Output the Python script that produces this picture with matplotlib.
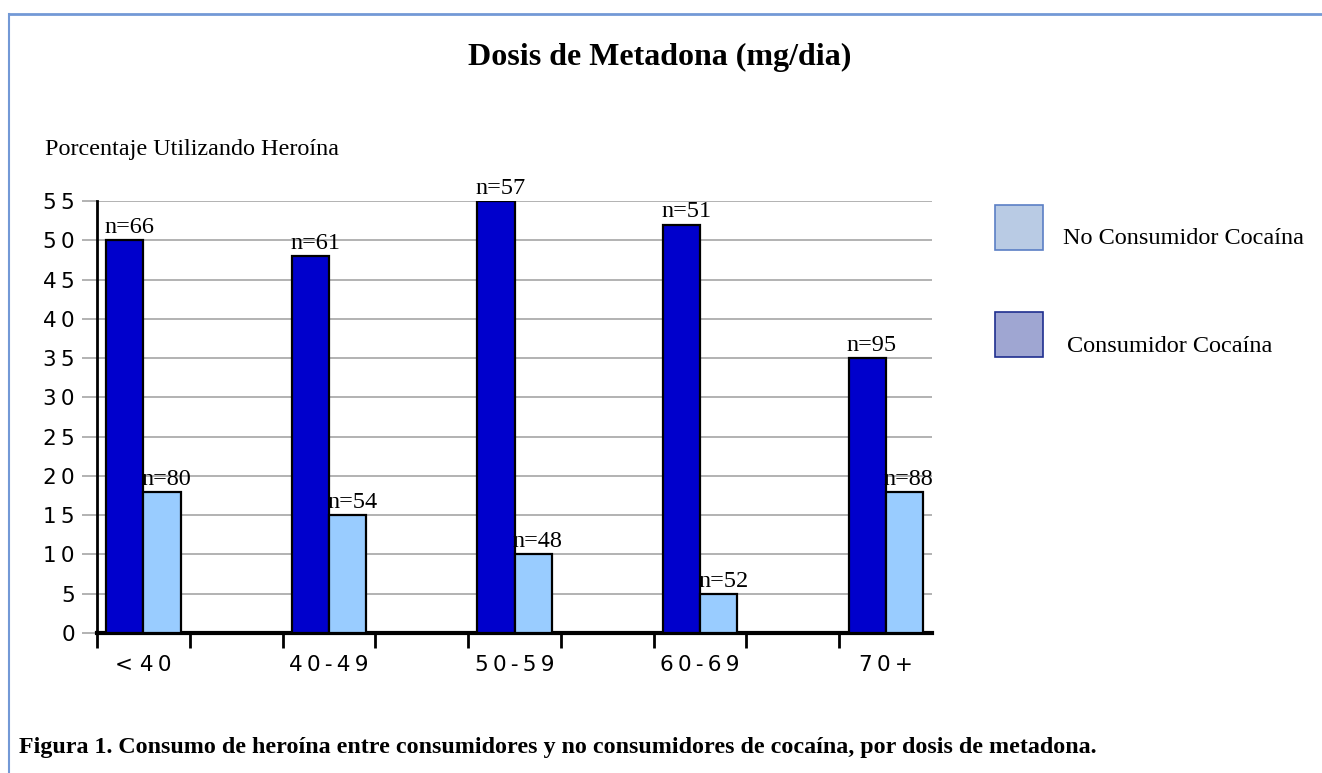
import numpy as np
import matplotlib.pyplot as plt
from matplotlib.patches import Rectangle
from matplotlib.lines import Line2D

# datos
grupos = ['< 40', '40-49', '50-59', '60-69', '70+']
consumidor = [50, 48, 55, 52, 35]
no_consumidor = [18, 15, 10, 5, 18]
n_consumidor = [66, 61, 57, 51, 95]
n_no_consumidor = [80, 54, 48, 52, 88]
yticks = np.arange(0, 56, 5)

W, H = 1322, 773
fig = plt.figure(figsize=(W / 100, H / 100), dpi=100)

serif = ['Liberation Serif', 'DejaVu Serif']
sans = ['DejaVu Sans']
gap = '\u2009'

def spaced(s):
    # espaciado entre caracteres como en el original
    return ' '.join(gap.join(list(w)) for w in s.split(' '))

# marco azul
fig.add_artist(Line2D([9 / W, 1], [1 - 14 / H, 1 - 14 / H], color='#7399d6', lw=2))
fig.add_artist(Line2D([9 / W, 9 / W], [0, 1 - 14 / H], color='#7399d6', lw=1.5))

ax = fig.add_axes([97 / W, 1 - 633 / H, 835 / W, 432 / H])

# cada grupo ocupa dos huecos (uno vacio entre grupos)
x = np.arange(len(grupos)) * 2 + 0.5
bw = 0.4
ax.bar(x - bw / 2, consumidor, width=bw, color='#0000cc', edgecolor='black', lw=1.6, zorder=3)
ax.bar(x + bw / 2, no_consumidor, width=bw, color='#99ccff', edgecolor='black', lw=1.6, zorder=3)

for xi, v, n in zip(x, consumidor, n_consumidor):
    ax.text(xi - bw - 0.02, v + 0.9, f'n={n}', family=serif, fontsize=17.5, ha='left', va='baseline')
for xi, v, n in zip(x, no_consumidor, n_no_consumidor):
    ax.text(xi - 0.02, v + 0.9, f'n={n}', family=serif, fontsize=17.5, ha='left', va='baseline')

ax.set_xlim(0, 9)
ax.set_ylim(0, 55)
ax.set_yticks(yticks)
ax.set_yticklabels([spaced(str(t)) for t in yticks], family=sans, fontsize=15.5)
ax.yaxis.grid(True, color='#a6a6a6', lw=1.2, zorder=0)
ax.tick_params(axis='y', length=11, color='#a6a6a6', width=1.2, pad=5)

ax.set_xticks(np.arange(0, 9))
ax.set_xticklabels([])
ax.tick_params(axis='x', length=11, width=2, color='black', direction='out')
for xi, g in zip(x, grupos):
    ax.text(xi, -2.8, spaced(g), family=sans, fontsize=15.5, ha='center', va='top')

for s in ['top', 'right']:
    ax.spines[s].set_visible(False)
ax.spines['left'].set_linewidth(2)
ax.spines['bottom'].set_linewidth(3)

# textos
fig.text(660 / W, 1 - 57 / H, 'Dosis de Metadona (mg/dia)', family=serif, fontsize=23,
         weight='bold', ha='center', va='center')
fig.text(45 / W, 1 - 150 / H, 'Porcentaje Utilizando Heroína', family=serif, fontsize=17.4,
         ha='left', va='center')
fig.text(19 / W, 1 - 748 / H,
         'Figura 1. Consumo de heroína entre consumidores y no consumidores de cocaína, por dosis de metadona.',
         family=serif, fontsize=17.3, weight='bold', ha='left', va='center')

# leyenda
fig.add_artist(Rectangle((995 / W, 1 - 250 / H), 48 / W, 45 / H, facecolor='#b9cbe4',
                         edgecolor='#5b7fc5', lw=1.2))
fig.text(1063 / W, 1 - 239 / H, 'No Consumidor Cocaína', family=serif, fontsize=17.5, ha='left', va='center')
fig.add_artist(Rectangle((995 / W, 1 - 357 / H), 48 / W, 45 / H, facecolor='#9fa6d2',
                         edgecolor='#1f2f8f', lw=1.2))
fig.text(1067 / W, 1 - 346 / H, 'Consumidor Cocaína', family=serif, fontsize=17.5, ha='left', va='center')

fig.savefig('out.png', dpi=100)
